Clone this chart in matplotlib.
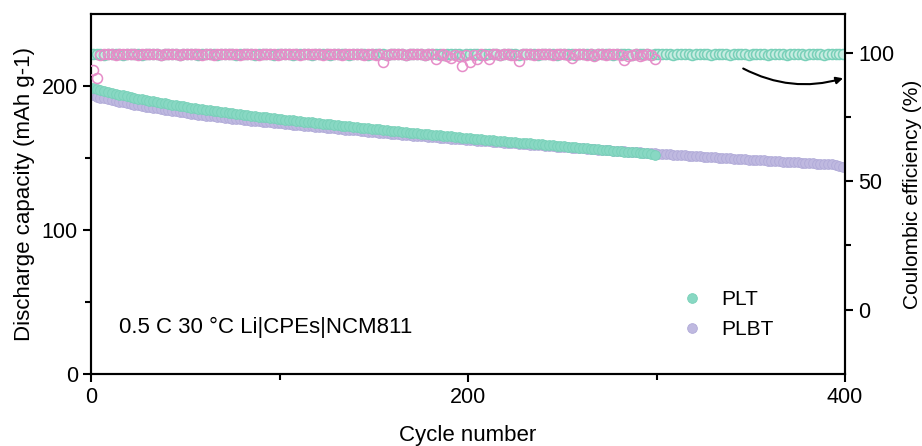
import matplotlib
matplotlib.use("Agg")
import matplotlib.pyplot as plt

plt.rcParams['font.family'] = ['Liberation Sans', 'DejaVu Sans']

# ---------------- data ----------------
plt_cycles = list(range(1, 301, 2))
plt_capacity = [
    198.5, 197.6, 197.0, 196.3, 195.8, 195.1, 194.6, 194.0, 193.5, 192.9,
    192.4, 191.8, 191.3, 190.8, 190.3, 189.8, 189.3, 188.9, 188.4, 187.9,
    187.5, 187.0, 186.6, 186.2, 185.8, 185.4, 185.0, 184.6, 184.2, 183.8,
    183.4, 183.1, 182.7, 182.4, 182.0, 181.6, 181.3, 181.0, 180.6, 180.3,
    180.0, 179.7, 179.4, 179.1, 178.8, 178.5, 178.2, 177.9, 177.6, 177.3,
    177.0, 176.7, 176.4, 176.1, 175.8, 175.6, 175.3, 175.0, 174.7, 174.4,
    174.1, 173.9, 173.6, 173.3, 173.0, 172.8, 172.5, 172.2, 171.9, 171.7,
    171.4, 171.1, 170.8, 170.6, 170.3, 170.1, 169.8, 169.5, 169.2, 169.0,
    168.7, 168.5, 168.2, 168.0, 167.7, 167.5, 167.2, 167.0, 166.7, 166.5,
    166.2, 166.0, 165.7, 165.5, 165.2, 165.0, 164.7, 164.5, 164.2, 164.0,
    163.8, 163.5, 163.3, 163.0, 162.8, 162.6, 162.3, 162.1, 161.9, 161.6,
    161.4, 161.2, 161.0, 160.7, 160.5, 160.3, 160.1, 159.8, 159.6, 159.4,
    159.2, 158.9, 158.7, 158.5, 158.3, 158.0, 157.8, 157.6, 157.4, 157.2,
    157.0, 156.7, 156.5, 156.3, 156.1, 155.8, 155.6, 155.4, 155.2, 155.0,
    154.8, 154.5, 154.3, 154.1, 153.9, 153.6, 153.4, 153.2, 153.0, 152.4]

plbt_cycles = list(range(1, 401, 2))
plbt_capacity = [
    193.5, 192.7, 192.0, 191.4, 190.8, 190.2, 189.7, 189.1, 188.6, 188.1,
    187.6, 187.1, 186.6, 186.1, 185.7, 185.2, 184.8, 184.4, 184.0, 183.6,
    183.2, 182.8, 182.4, 182.0, 181.6, 181.2, 180.9, 180.5, 180.2, 179.8,
    179.5, 179.2, 178.9, 178.6, 178.3, 178.0, 177.7, 177.4, 177.1, 176.9,
    176.6, 176.3, 176.0, 175.8, 175.5, 175.2, 175.0, 174.7, 174.5, 174.2,
    174.0, 173.7, 173.5, 173.2, 173.0, 172.7, 172.5, 172.2, 172.0, 171.7,
    171.5, 171.2, 171.0, 170.7, 170.5, 170.2, 170.0, 169.7, 169.5, 169.3,
    169.1, 168.8, 168.6, 168.3, 168.1, 167.9, 167.7, 167.4, 167.2, 167.0,
    166.8, 166.5, 166.3, 166.1, 165.9, 165.6, 165.4, 165.2, 165.0, 164.8,
    164.6, 164.3, 164.1, 163.9, 163.7, 163.5, 163.3, 163.1, 162.9, 162.7,
    162.5, 162.3, 162.1, 161.9, 161.7, 161.5, 161.3, 161.1, 160.9, 160.7,
    160.5, 160.3, 160.1, 159.9, 159.7, 159.5, 159.3, 159.1, 158.9, 158.7,
    158.5, 158.3, 158.1, 157.9, 157.7, 157.5, 157.3, 157.2, 157.0, 156.8,
    156.6, 156.4, 156.2, 156.0, 155.8, 155.7, 155.5, 155.3, 155.1, 154.9,
    154.7, 154.6, 154.4, 154.2, 154.0, 153.9, 153.7, 153.5, 153.3, 153.2,
    153.0, 152.8, 152.6, 152.5, 152.3, 152.1, 151.9, 151.8, 151.6, 151.4,
    151.2, 151.1, 150.9, 150.8, 150.6, 150.4, 150.2, 150.1, 149.9, 149.8,
    149.6, 149.4, 149.2, 149.1, 148.9, 148.8, 148.6, 148.5, 148.3, 148.2,
    148.0, 147.8, 147.6, 147.5, 147.3, 147.2, 147.0, 146.9, 146.7, 146.6,
    146.4, 146.3, 146.1, 146.0, 145.8, 145.7, 145.5, 145.3, 144.2, 143.6]

ce_pink_cycles = list(range(1, 301, 2))
ce_pink = [
    93.4, 90.0, 99.0, 99.3, 99.4, 99.3, 99.2, 99.4, 99.3, 99.5,
    99.3, 99.4, 99.2, 99.3, 99.4, 99.3, 99.5, 99.3, 99.2, 99.4,
    99.3, 99.4, 99.3, 99.2, 99.4, 99.3, 99.5, 99.3, 99.4, 99.2,
    99.4, 99.3, 99.2, 99.4, 99.3, 99.5, 99.3, 99.4, 99.3, 99.2,
    99.4, 99.3, 99.5, 99.3, 99.2, 99.4, 99.3, 99.4, 99.3, 99.2,
    99.4, 99.3, 99.5, 99.3, 99.4, 99.2, 99.3, 99.4, 99.3, 99.5,
    99.3, 99.2, 99.4, 99.3, 99.4, 99.3, 99.2, 99.4, 99.3, 99.5,
    99.3, 99.4, 99.2, 99.3, 99.4, 99.0, 99.3, 96.3, 99.2, 99.4,
    99.3, 99.4, 99.3, 99.2, 99.4, 99.3, 99.5, 99.3, 99.2, 99.4,
    99.3, 97.5, 99.0, 99.3, 98.5, 97.8, 99.2, 98.8, 94.7, 99.0,
    96.5, 99.2, 97.5, 99.3, 99.1, 97.5, 99.4, 99.3, 99.2, 99.4,
    99.3, 99.2, 99.0, 96.9, 99.3, 99.4, 99.3, 99.2, 99.4, 99.3,
    99.4, 99.3, 99.2, 99.4, 99.3, 99.3, 99.0, 97.8, 99.3, 99.4,
    99.3, 99.2, 99.4, 98.8, 99.3, 99.4, 99.2, 99.3, 99.4, 99.3,
    99.0, 97.3, 98.5, 99.2, 99.3, 98.8, 99.1, 99.3, 99.0, 97.5]

ce_green_cycles = list(range(1, 401, 2))
ce_green = [
    99.3, 99.4, 99.3, 99.2, 99.4, 99.3, 99.4, 99.3, 99.2, 99.4,
    99.3, 99.4, 99.3, 99.2, 99.4, 99.3, 99.4, 99.3, 99.2, 99.4,
    99.3, 99.4, 99.3, 99.2, 99.4, 99.3, 99.4, 99.3, 99.2, 99.4,
    99.3, 99.4, 99.3, 99.2, 99.4, 99.3, 99.4, 99.3, 99.2, 99.4,
    99.3, 99.4, 99.3, 99.2, 99.4, 99.3, 99.4, 99.3, 99.2, 99.4,
    99.3, 99.4, 99.3, 99.2, 99.4, 99.3, 99.4, 99.3, 99.2, 99.4,
    99.3, 99.4, 99.3, 99.2, 99.4, 99.3, 99.4, 99.3, 99.2, 99.4,
    99.3, 99.4, 99.3, 99.2, 99.4, 99.3, 99.4, 99.3, 99.2, 99.4,
    99.3, 99.4, 99.3, 99.2, 99.4, 99.3, 99.4, 99.3, 99.2, 99.4,
    99.3, 99.4, 99.3, 99.2, 99.4, 99.3, 99.4, 99.3, 99.2, 99.4,
    99.3, 99.4, 99.3, 99.2, 99.4, 99.3, 99.4, 99.3, 99.2, 99.4,
    99.3, 99.4, 99.3, 99.2, 99.4, 99.3, 99.4, 99.3, 99.2, 99.4,
    99.3, 99.4, 99.3, 99.2, 99.4, 99.3, 99.4, 99.3, 99.2, 99.4,
    99.3, 99.4, 99.3, 99.2, 99.4, 99.3, 99.4, 99.3, 99.2, 99.4,
    99.3, 99.4, 99.3, 99.2, 99.4, 99.3, 99.4, 99.3, 99.2, 99.4,
    99.4, 99.3, 99.4, 99.3, 99.2, 99.4, 99.3, 99.4, 99.3, 99.2,
    99.4, 99.3, 99.4, 99.3, 99.2, 99.4, 99.3, 99.4, 99.3, 99.2,
    99.4, 99.3, 99.4, 99.3, 99.2, 99.4, 99.3, 99.4, 99.3, 99.2,
    99.4, 99.3, 99.4, 99.3, 99.2, 99.4, 99.3, 99.4, 99.3, 99.2,
    99.4, 99.3, 99.4, 99.3, 99.2, 99.4, 99.3, 99.4, 99.3, 99.3]

series_labels = ['PLT', 'PLBT']
annotation_text = '0.5 C 30 \u00b0C Li|CPEs|NCM811'

# ---------------- style ----------------
c_green = '#88d8c3'
c_green_edge = '#78d0b8'
c_purple = '#bfb9e0'
c_purple_edge = '#b0aad8'
c_pink = '#e68cc8'

fig = plt.figure(figsize=(9.22, 4.46), dpi=100)
ax = fig.add_axes([91/922, 72/446, 754/922, 360/446])
ax2 = ax.twinx()

ax.plot(plbt_cycles, plbt_capacity, 'o', ls='none', ms=7, mfc=c_purple,
        mec=c_purple_edge, mew=0.6, label=series_labels[1], zorder=2)
ax.plot(plt_cycles, plt_capacity, 'o', ls='none', ms=7, mfc=c_green,
        mec=c_green_edge, mew=0.6, label=series_labels[0], zorder=3)

ax2.plot(ce_green_cycles, ce_green, 'o', ls='none', ms=7.2, mfc='#c8ede2',
         mec=c_green_edge, mew=1.1, zorder=2)
ax2.plot(ce_pink_cycles, ce_pink, 'o', ls='none', ms=7.2, mfc='none',
         mec=c_pink, mew=1.1, zorder=3)

ax.set_xlim(0, 400)
ax.set_ylim(0, 250)
ax2.set_ylim(-25, 115)

ax.set_xticks([0, 200, 400])
ax.set_xticks([100, 300], minor=True)
ax.set_yticks([0, 100, 200])
ax.set_yticks([50, 150], minor=True)
ax2.set_yticks([0, 50, 100])
ax2.set_yticks([25, 75], minor=True)

for a in (ax, ax2):
    for s in a.spines.values():
        s.set_linewidth(1.5)
    a.tick_params(which='major', length=6, width=1.5, labelsize=15.5, direction='out')
    a.tick_params(which='minor', length=4, width=1.5, direction='out')

ax.set_xlabel('Cycle number', fontsize=16, labelpad=12)
ax.set_ylabel('Discharge capacity (mAh g-1)', fontsize=16, labelpad=5)
ax2.set_ylabel('Coulombic efficiency (%)', fontsize=15, labelpad=6)

ax.text(15, 32.5, annotation_text, fontsize=16, va='center', ha='left')

handles, labels = ax.get_legend_handles_labels()
order = [1, 0]
ax.legend([handles[i] for i in order], [labels[i] for i in order],
          loc='center left', bbox_to_anchor=(0.758, 0.165), frameon=False,
          fontsize=15, handletextpad=0.9, markerscale=1.0, labelspacing=0.5,
          handlelength=1.0)

ax2.annotate('', xy=(399, 90.0), xytext=(346, 93.8),
             arrowprops=dict(arrowstyle='-|>', color='black', lw=1.5,
                             connectionstyle='arc3,rad=0.2',
                             shrinkA=0, shrinkB=0, mutation_scale=10))

fig.savefig('out.png', dpi=100)
